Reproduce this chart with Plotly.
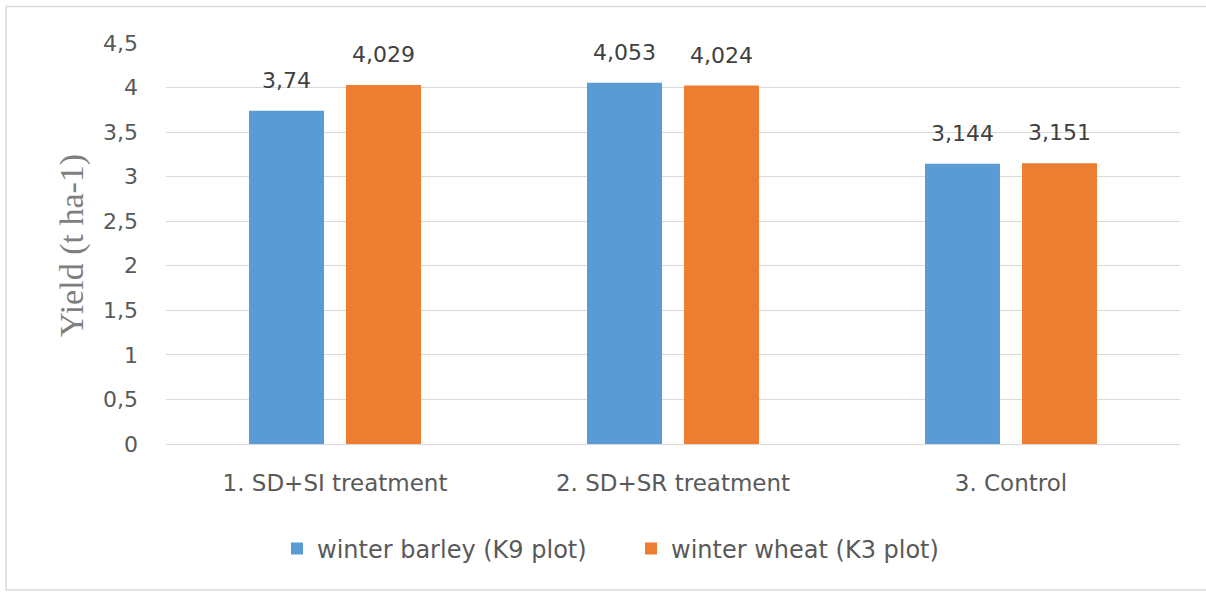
import plotly.graph_objects as go

categories = ["1. SD+SI treatment", "2. SD+SR treatment", "3. Control"]
barley = [3.74, 4.053, 3.144]
wheat = [4.029, 4.024, 3.151]
series_names = ["winter barley (K9 plot)", "winter wheat (K3 plot)"]
y_ticks = [0, 0.5, 1, 1.5, 2, 2.5, 3, 3.5, 4, 4.5]

def lab(v):
    return f"{v:g}".replace(".", ",")

W, H = 1206, 594
L, R, T, B = 166, 26, 43, 150
pw, ph = W - L - R, H - T - B

FONT = "DejaVu Sans"
fig = go.Figure()
for i, (name, vals, col) in enumerate([(series_names[0], barley, "#5B9BD5"),
                                       (series_names[1], wheat, "#ED7D31")]):
    fig.add_trace(go.Bar(
        x=categories, y=vals, name=name, marker_color=col, marker_line_width=0,
        offsetgroup=str(i), hoverinfo="skip",
    ))
for i, vals in enumerate([barley, wheat]):
    fig.add_trace(go.Scatter(
        x=categories, y=vals, mode="markers+text", offsetgroup=str(i),
        marker=dict(size=26, opacity=0), text=[lab(v) for v in vals],
        textposition="top center", cliponaxis=False, showlegend=False, hoverinfo="skip",
        textfont=dict(family=FONT, size=22, color="#404040"),
    ))

def px_x(x):
    return (x - L) / pw

def px_y(y):
    return (H - B - y) / ph

fig.update_layout(
    width=W, height=H,
    margin=dict(l=L, r=R, t=T, b=B),
    paper_bgcolor="white", plot_bgcolor="white",
    separators=", ",
    barmode="group", bargap=0.426, bargroupgap=0.227,
    scattermode="group", scattergap=0.426,
    font=dict(family=FONT, color="#595959"),
    showlegend=True,
    legend=dict(orientation="h", x=px_x(277), xanchor="left", y=px_y(549), yanchor="middle",
                font=dict(family=FONT, size=24, color="#595959"),
                entrywidth=309, entrywidthmode="pixels", traceorder="normal"),
    xaxis=dict(showgrid=False, showline=False, ticks="", ticklabelstandoff=23,
               tickfont=dict(size=23, color="#595959")),
    yaxis=dict(range=[0, 4.5], tickvals=y_ticks, showgrid=True, gridcolor="#D9D9D9",
               gridwidth=1, zeroline=True, zerolinecolor="#D9D9D9", zerolinewidth=1,
               showline=False, ticks="", ticklabelstandoff=27,
               tickfont=dict(size=22, color="#595959")),
    annotations=[dict(text="Yield (t ha-1)", xref="paper", yref="paper",
                      x=px_x(72), y=px_y(246), textangle=-90, showarrow=False,
                      xanchor="center", yanchor="middle",
                      font=dict(family="Liberation Serif", size=34, color="#7F7F7F"))],
    shapes=[dict(type="rect", xref="paper", yref="paper",
                 x0=px_x(6), x1=px_x(1215), y0=px_y(590), y1=px_y(6.5),
                 line=dict(color="#D9D9D9", width=1.5), fillcolor="rgba(0,0,0,0)", layer="below")],
)

fig.write_html("out.html", config={"displayModeBar": False},
               post_script="document.body.style.margin='0';")
